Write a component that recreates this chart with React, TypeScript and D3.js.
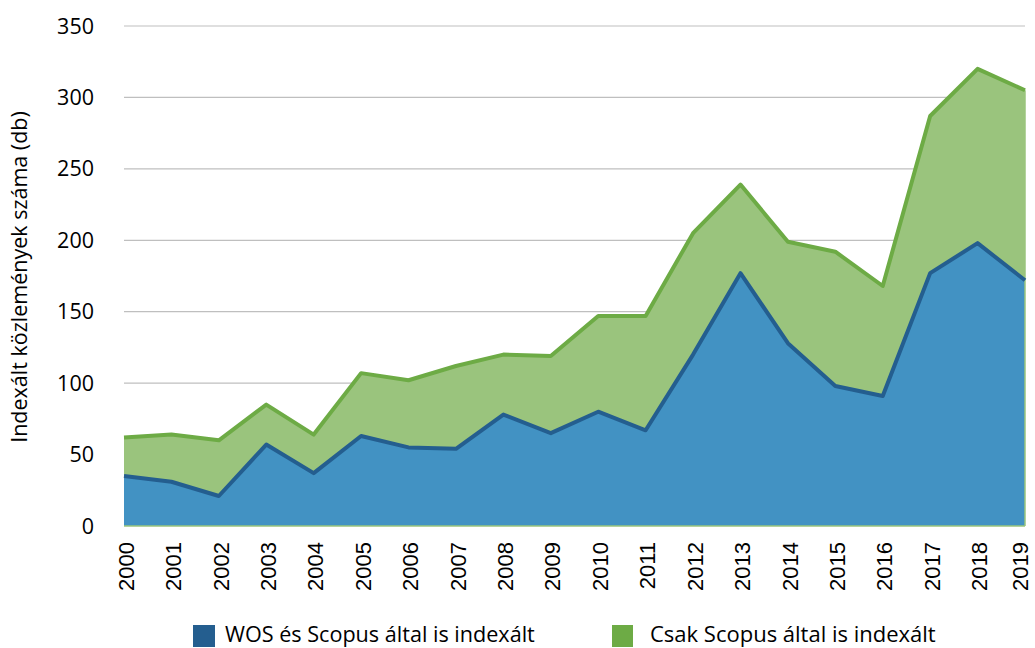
import React from "react";
import * as d3 from "d3";

const years = ["2000","2001","2002","2003","2004","2005","2006","2007","2008","2009","2010","2011","2012","2013","2014","2015","2016","2017","2018","2019"];
const wosScopus = [35,31,21,57,37,63,55,54,78,65,80,67,120,177,128,98,91,177,198,172];
const csakScopus = [27,33,39,28,27,44,47,58,42,54,67,80,85,62,71,94,77,110,122,133];
const yTicks = [0,50,100,150,200,250,300,350];
const seriesNames = ["WOS és Scopus által is indexált", "Csak Scopus által is indexált"];

const W = 1035, H = 648;
const left = 124, right = 1025, top = 26, bottom = 526;
const FONT = "'Open Sans', sans-serif";
const XFONT = "'Liberation Sans', Arial, sans-serif";

export default function App() {
  const x = d3.scalePoint<string>().domain(years).range([left, right]);
  const y = d3.scaleLinear().domain([0, 350]).range([bottom, top]);
  const rows = years.map((yr, i) => ({ yr, a: wosScopus[i], b: csakScopus[i] }));
  const stack = d3.stack<any>().keys(["a", "b"])(rows);
  const area = d3.area<any>().x((d: any) => x(d.data.yr)!).y0((d: any) => y(d[0])).y1((d: any) => y(d[1]));
  const line = d3.line<any>().x((d: any) => x(d.data.yr)!).y((d: any) => y(d[1]));
  const fills = ["#4292C3", "#9AC47D"];
  const strokes = ["#245E8F", "#6DAB45"];
  return (
    <svg width={W} height={H} style={{ position: "absolute", left: 0, top: 0, background: "#fff" }}>
      {yTicks.map(t => (
        <g key={t}>
          {t > 0 && <line x1={left} x2={right} y1={y(t)} y2={y(t)} stroke="#BFBFBF" strokeWidth={1.2} />}
          <text x={94} y={y(t)} dy="0.35em" textAnchor="end" fontFamily={FONT} fontSize={21.5} fill="#000">{t}</text>
        </g>
      ))}
      {stack.map((s, i) => (
        <path key={"a" + i} d={area(s as any)!} fill={fills[i]} />
      ))}
      <line x1={left} x2={right} y1={bottom} y2={bottom} stroke="#9AC47D" strokeWidth={1.5} />
      <line x1={right} x2={right} y1={y(stack[1][19][1])} y2={bottom} stroke="#9AC47D" strokeWidth={1.5} />
      {stack.map((s, i) => (
        <path key={"l" + i} d={line(s as any)!} fill="none" stroke={strokes[i]} strokeWidth={4} strokeLinejoin="round" />
      ))}
      {years.map(yr => (
        <text key={yr} transform={`translate(${Math.min(x(yr)! + 2, W - 15)},${bottom + 16}) rotate(-90)`} dy="0.35em" textAnchor="end" fontFamily={XFONT} fontSize={22} fill="#000">{yr}</text>
      ))}
      <text transform={`translate(19,${277}) rotate(-90)`} dy="0.35em" textAnchor="middle" fontFamily={FONT} fontSize={21.5} fill="#000">Indexált közlemények száma (db)</text>
      <rect x={193} y={625} width={22} height={22} fill="#245E8F" />
      <text x={225} y={634} dy="0.35em" fontFamily={FONT} fontSize={21.6} fill="#000">{seriesNames[0]}</text>
      <rect x={612} y={625} width={21} height={22} fill="#6DAB45" />
      <text x={650} y={634} dy="0.35em" fontFamily={FONT} fontSize={22} fill="#000">{seriesNames[1]}</text>
    </svg>
  );
}
